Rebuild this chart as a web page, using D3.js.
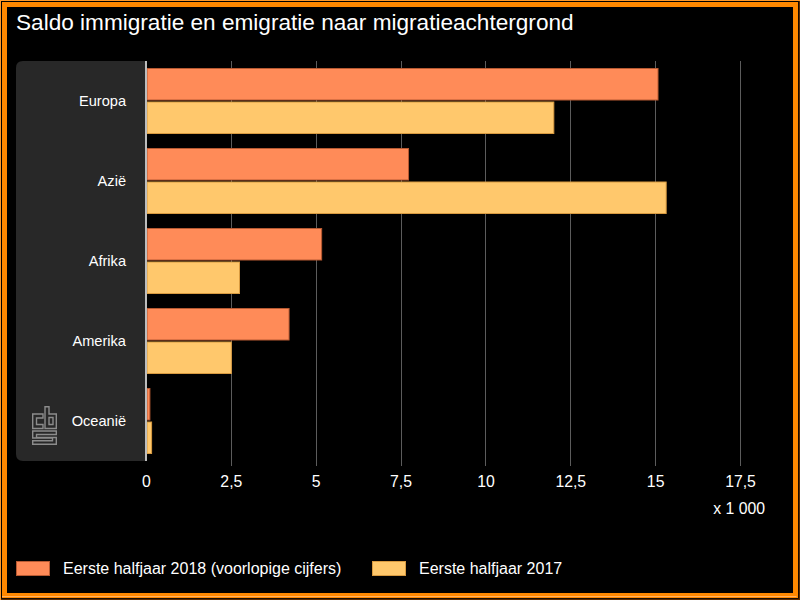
<!DOCTYPE html>
<html>
<head>
<meta charset="utf-8">
<script src="https://cdn.jsdelivr.net/npm/d3@7"></script>
<style>
html,body{margin:0;padding:0;background:#000;}
svg{display:block;font-family:"Liberation Sans",Arial,sans-serif;}
</style>
</head>
<body>
<svg id="chart" width="800" height="600"></svg>
<script>
const titleText = "Saldo immigratie en emigratie naar migratieachtergrond";
const categories = ["Europa", "Azië", "Afrika", "Amerika", "Oceanië"];
const seriesNames = ["Eerste halfjaar 2018 (voorlopige cijfers)", "Eerste halfjaar 2017"];
const values2018 = [15.07, 7.72, 5.16, 4.2, 0.1];
const values2017 = [12.0, 15.31, 2.74, 2.5, 0.15];
const tickValues = [0, 2.5, 5, 7.5, 10, 12.5, 15, 17.5];
const unitLabel = "x 1 000";

const fills = ["#ff8b58", "#ffc86c"];
const strokes = ["#b85a32", "#d89a40"];

(function () {
const svg = d3.select("#chart");
const W = 800, H = 600;

svg.append("rect").attr("width", W).attr("height", H).attr("fill", "#000");

// frame
svg.append("rect").attr("x", 0.5).attr("y", 0.5).attr("width", W - 1).attr("height", H - 1)
  .attr("fill", "none").attr("stroke", "#ff9a2a").attr("stroke-width", 1);
svg.append("rect").attr("x", 4.5).attr("y", 4.5).attr("width", W - 9).attr("height", H - 9)
  .attr("fill", "none").attr("stroke", "#ff8800").attr("stroke-width", 5);
svg.append("path").attr("d", `M${W-0.5},1 V${H-0.5} H1`).attr("fill", "none")
  .attr("stroke", "#5a2a00").attr("stroke-width", 1.5);
svg.append("path").attr("d", `M2,${H-3.5} H${W-3.5}`).attr("fill", "none")
  .attr("stroke", "#ffb060").attr("stroke-width", 1);

svg.append("text").attr("x", 16).attr("y", 30).attr("fill", "#fff")
  .attr("font-size", 22.6).text(titleText);

const pLeft = 146, pRight = 740, pTop = 61, pBottom = 461;

const x = d3.scaleLinear().domain([0, 17.5]).range([pLeft, pRight]);
const y = d3.scaleBand().domain(categories).range([pTop, pBottom]).padding(0);
const ySub = d3.scaleBand().domain(seriesNames).range([7, 73]).paddingInner(0.03);

const r = 7;
svg.append("path")
  .attr("d", `M${pLeft},${pTop} H${16 + r} Q16,${pTop} 16,${pTop + r} V${pBottom - r} Q16,${pBottom} ${16 + r},${pBottom} H${pLeft} Z`)
  .attr("fill", "#282828");

svg.append("g").selectAll("line").data(tickValues.filter(d => d > 0)).join("line")
  .attr("x1", d => Math.round(x(d)) + 0.5).attr("x2", d => Math.round(x(d)) + 0.5)
  .attr("y1", pTop).attr("y2", pBottom + 5)
  .attr("stroke", "#5c5c5c").attr("stroke-width", 1);

const data = categories.map((c, i) => ({cat: c, vals: [values2018[i], values2017[i]]}));
const groups = svg.append("g").selectAll("g").data(data).join("g")
  .attr("transform", d => `translate(0,${y(d.cat)})`);
groups.selectAll("rect").data(d => d.vals.map((v, k) => ({v, k}))).join("rect")
  .attr("x", x(0) + 1)
  .attr("y", d => ySub(seriesNames[d.k]) + 0.5)
  .attr("width", d => Math.max(0, x(d.v) - x(0) - 0.5))
  .attr("height", ySub.bandwidth() - 1)
  .attr("fill", d => fills[d.k])
  .attr("stroke", d => strokes[d.k])
  .attr("stroke-width", 1);

svg.append("line").attr("x1", pLeft).attr("x2", pLeft).attr("y1", pTop).attr("y2", pBottom)
  .attr("stroke", "#bdbdbd").attr("stroke-width", 2);

svg.append("g").selectAll("text").data(categories).join("text")
  .attr("x", 126).attr("y", d => y(d) + y.bandwidth() / 2)
  .attr("dy", "0.35em").attr("text-anchor", "end")
  .attr("fill", "#fff").attr("font-size", 14.6).text(d => d);

const xAxis = d3.axisBottom(x).tickValues(tickValues).tickSize(0).tickPadding(0)
  .tickFormat(d => String(d).replace(".", ","));
const ax = svg.append("g").attr("transform", `translate(0,${pBottom})`).call(xAxis);
ax.select(".domain").remove();
ax.selectAll("text").attr("fill", "#fff").attr("font-size", 15.8)
  .attr("font-family", "Liberation Sans, Arial, sans-serif")
  .attr("y", 20).attr("dy", "0.35em");

svg.append("text").attr("x", 765).attr("y", 508).attr("dy", "0.35em")
  .attr("text-anchor", "end").attr("fill", "#fff").attr("font-size", 15.8).text(unitLabel);

const logo = svg.append("g").attr("transform", "translate(32,406)")
  .attr("fill", "none").attr("stroke", "#8c8c8c").attr("stroke-width", 1.4);
logo.append("path").attr("d", "M11,8 H0.7 V22.5 H11 V18.5 H4.5 V12 H11 Z");
logo.append("path").attr("d", "M13,0.7 H17 V8 H24.3 V22.5 H13 Z");
logo.append("path").attr("d", "M17,11.5 H21 V18.5 H17 Z");
logo.append("path").attr("d", "M0.7,25 H24.3 V28.5 H4.5 V31.5 H24.3 V38.3 H0.7 V34.8 H20.5 V32 H0.7 Z");

const leg = svg.append("g");
const legX = [16, 372];
seriesNames.forEach((s, i) => {
  leg.append("rect").attr("x", legX[i] + 0.5).attr("y", 561.5).attr("width", 33).attr("height", 14)
    .attr("fill", fills[i]).attr("stroke", strokes[i]).attr("stroke-width", 1);
  leg.append("text").attr("x", legX[i] + 47).attr("y", 568.5).attr("dy", "0.35em")
    .attr("fill", "#fff").attr("font-size", 16).text(s);
});
})();
</script>
</body>
</html>
